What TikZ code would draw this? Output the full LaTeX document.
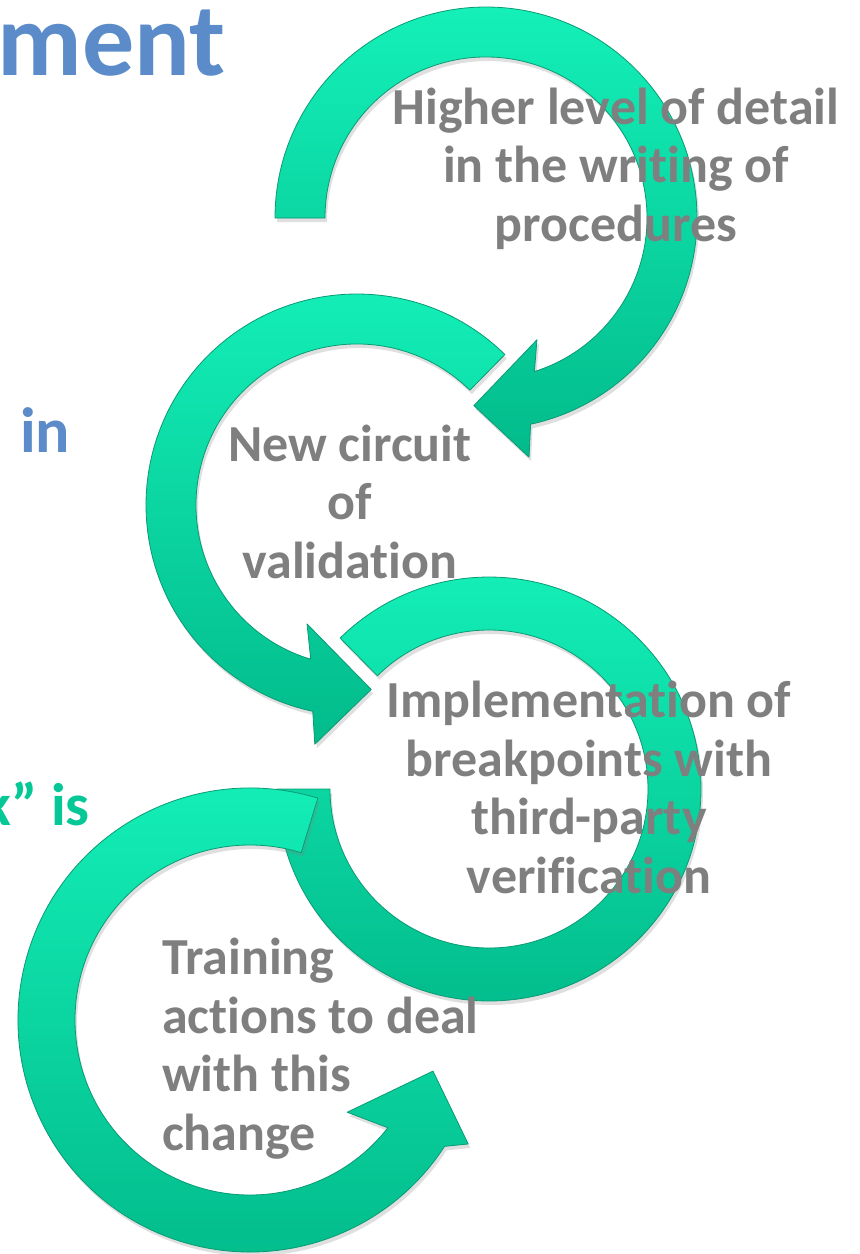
\documentclass[tikz,border=0pt]{standalone}
\usepackage{fontspec}
\setmainfont{Carlito}[Ligatures=NoCommon]
\usetikzlibrary{calc,shadows}

\definecolor{arrowtop}{HTML}{14F0B8}
\definecolor{arrowbot}{HTML}{02BB8B}
\definecolor{arrowedge}{HTML}{0A9A74}
\definecolor{labelgray}{HTML}{7F7F7F}
\definecolor{titleblue}{HTML}{5B8CC9}
\definecolor{accentgreen}{HTML}{05C896}

\tikzset{
  cyclearrow/.style={top color=arrowtop, bottom color=arrowbot, draw=arrowedge,
    line width=0.8pt, line join=round,
    drop shadow={opacity=0.25, shadow xshift=2pt, shadow yshift=-4pt}},
  steplabel/.style={text=labelgray, font=\bfseries\fontsize{52}{58.5}\selectfont,
    inner sep=0pt},
  sidetext/.style={font=\bfseries, inner sep=0pt},
}

\begin{document}
\begin{tikzpicture}[x=1pt,y=1pt]
\useasboundingbox (0,0) rectangle (860,-1254);
\clip (0,0) rectangle (860,-1254);

% heading fragments on the left
\node[sidetext, text=titleblue, font=\bfseries\fontsize{104}{110}\selectfont, anchor=base east] (head) at (226,-75) {ment};
\node[sidetext, text=titleblue, font=\bfseries\fontsize{64}{70}\selectfont, anchor=base west] (kwin) at (20,-452) {in};
\node[sidetext, text=accentgreen, font=\bfseries\fontsize{60}{66}\selectfont, anchor=base east] (kwis) at (90,-825) {k” is};

% centres of the four circular arrows
\coordinate (c1) at (486,-218);
\coordinate (c2) at (357,-505);
\coordinate (c3) at (489,-789);
\coordinate (c4) at (250,-1020);

% arrow 1: clockwise, tail on the left
\path[cyclearrow] ($(c1)+(180:211)$) arc[start angle=180, end angle=-77.8, radius=211]
  -- ($(c1)+(-79.8:243)$) -- ($(c1)+(-93.7:188)$) -- ($(c1)+(-67.3:132)$)
  -- ($(c1)+(-72.5:161)$) arc[start angle=-72.5, end angle=180, radius=161] -- cycle;

% arrow 2: counter-clockwise, tail upper right
\path[cyclearrow] ($(c2)+(45.5:211)$) arc[start angle=45.5, end angle=257.9, radius=211]
  -- ($(c2)+(260:243)$) -- ($(c2)+(274.4:185)$) -- ($(c2)+(247.2:129)$)
  -- ($(c2)+(253.3:161)$) arc[start angle=253.3, end angle=45.5, radius=161] -- cycle;

% arrow 3: clockwise, ends under the tail of arrow 4
\path[cyclearrow] ($(c3)+(134.6:212)$) arc[start angle=134.6, end angle=-180, radius=212]
  -- ($(c3)+(-180:159)$) arc[start angle=-180, end angle=134.6, radius=159] -- cycle;

% arrow 4: counter-clockwise, head at lower right
\path[cyclearrow] ($(c4)+(73:232)$) arc[start angle=73, end angle=327, radius=232]
  -- ($(c4)+(330.4:251)$) -- ($(c4)+(344.4:190)$) -- ($(c4)+(316.5:134)$)
  -- ($(c4)+(322:175)$) arc[start angle=322, end angle=73, radius=175] -- cycle;

% step labels (anchored at the baseline of their last line)
\node[steplabel, align=center, anchor=base] (s1) at (616,-241)
  {Higher level of detail\\in the writing of\\procedures};
\node[steplabel, align=center, anchor=base] (s2) at (350,-578)
  {New circuit\\of\\validation};
\node[steplabel, align=center, anchor=base] (s3) at (589,-893)
  {Implementation of\\breakpoints with\\third-party\\verification};
\node[steplabel, align=left, anchor=base west] (s4) at (162,-1150)
  {Training\\actions to deal\\with this\\change};
\end{tikzpicture}
\end{document}
